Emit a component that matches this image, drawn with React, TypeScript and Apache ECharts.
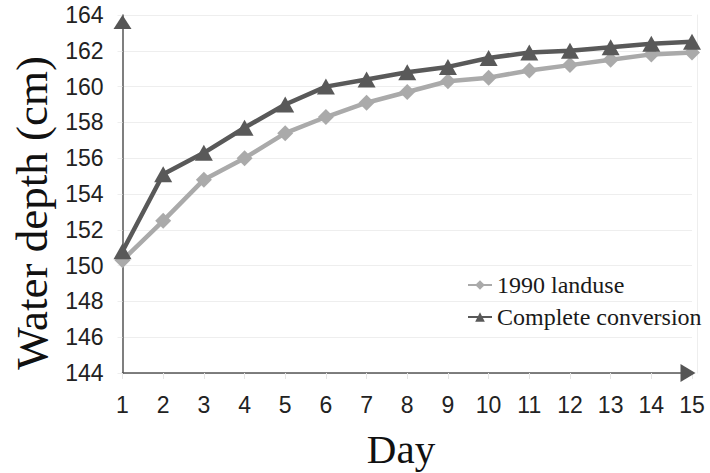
import React, { useEffect, useRef } from "react";
import * as echarts from "echarts";

const days = ["1", "2", "3", "4", "5", "6", "7", "8", "9", "10", "11", "12", "13", "14", "15"];
const landuse1990 = [150.3, 152.5, 154.8, 156.0, 157.4, 158.3, 159.1, 159.7, 160.3, 160.5, 160.9, 161.2, 161.5, 161.8, 161.9];
const completeConversion = [150.8, 155.1, 156.3, 157.7, 159.0, 160.0, 160.4, 160.8, 161.1, 161.6, 161.9, 162.0, 162.2, 162.4, 162.5];
const yMin = 144;
const yMax = 164;
const yStep = 2;

const sansNarrow = "'Liberation Sans Narrow', 'Liberation Sans', Arial, sans-serif";
const serif = "'Liberation Serif', 'Times New Roman', serif";

export default function App() {
  const ref = useRef<HTMLDivElement>(null);
  useEffect(() => {
    if (!ref.current) return;
    const chart = echarts.init(ref.current, undefined, { renderer: "svg" });
    chart.setOption({
      animation: false,
      backgroundColor: "#ffffff",
      grid: { left: 122.5, right: 18, top: 15, bottom: 100 },
      legend: {
        orient: "vertical",
        left: 467,
        top: 273,
        padding: 0,
        itemWidth: 24,
        itemHeight: 12,
        itemGap: 8,
        textStyle: { fontFamily: serif, fontSize: 24, color: "#1a1a1a", lineHeight: 24 },
        data: ["1990 landuse", "Complete conversion"],
      },
      xAxis: {
        type: "category",
        data: days,
        boundaryGap: false,
        axisLine: {
          lineStyle: { color: "#555", width: 1.5 },
          symbol: ["none", "triangle"],
          symbolSize: [18, 15],
          symbolOffset: [0, -4],
        },
        axisTick: { show: true, inside: false, length: 6, lineStyle: { color: "#e6e6e6" } },
        axisLabel: { fontFamily: sansNarrow, fontSize: 23, color: "#222", margin: 20 },
        splitLine: { show: false },
      },
      yAxis: [
        {
          type: "value",
          min: yMin,
          max: yMax,
          interval: yStep,
          axisLine: {
            show: true,
            lineStyle: { color: "#555", width: 1.5 },
            symbol: ["none", "triangle"],
            symbolSize: [18, 14],
            symbolOffset: [0, -7],
          },
          axisTick: { show: true, length: 5, lineStyle: { color: "#eeeeee" } },
          axisLabel: { fontFamily: sansNarrow, fontSize: 23, color: "#222", margin: 19 },
          splitLine: { show: true, lineStyle: { color: "#eeeeee", width: 1 } },
        },
        {
          type: "value",
          position: "right",
          min: yMin,
          max: yMax,
          interval: yStep,
          offset: 5,
          axisLine: { show: true, lineStyle: { color: "#eeeeee", width: 1 } },
          axisTick: { show: false },
          axisLabel: { show: false },
          splitLine: { show: false },
        },
      ],
      series: [
        {
          name: "1990 landuse",
          type: "line",
          data: landuse1990,
          symbol: "diamond",
          symbolSize: 16,
          lineStyle: { color: "#aaaaaa", width: 4.5 },
          itemStyle: { color: "#aaaaaa" },
          z: 2,
        },
        {
          name: "Complete conversion",
          type: "line",
          data: completeConversion,
          symbol: "triangle",
          symbolSize: [18, 16],
          lineStyle: { color: "#595959", width: 4.5 },
          itemStyle: { color: "#595959" },
          z: 3,
        },
      ],
      graphic: [
        {
          type: "text",
          x: 32,
          y: 213,
          rotation: Math.PI / 2,
          style: {
            text: "Water depth (cm)",
            fontFamily: serif,
            fontSize: 45,
            fill: "#111",
            align: "center",
            verticalAlign: "middle",
          },
        },
        {
          type: "text",
          x: 401,
          y: 449,
          style: {
            text: "Day",
            fontFamily: serif,
            fontSize: 41,
            fill: "#111",
            align: "center",
            verticalAlign: "middle",
          },
        },
      ],
    });
    return () => chart.dispose();
  }, []);
  return (
    <div
      ref={ref}
      style={{ position: "fixed", left: 0, top: 0, width: 710, height: 473 }}
    />
  );
}
